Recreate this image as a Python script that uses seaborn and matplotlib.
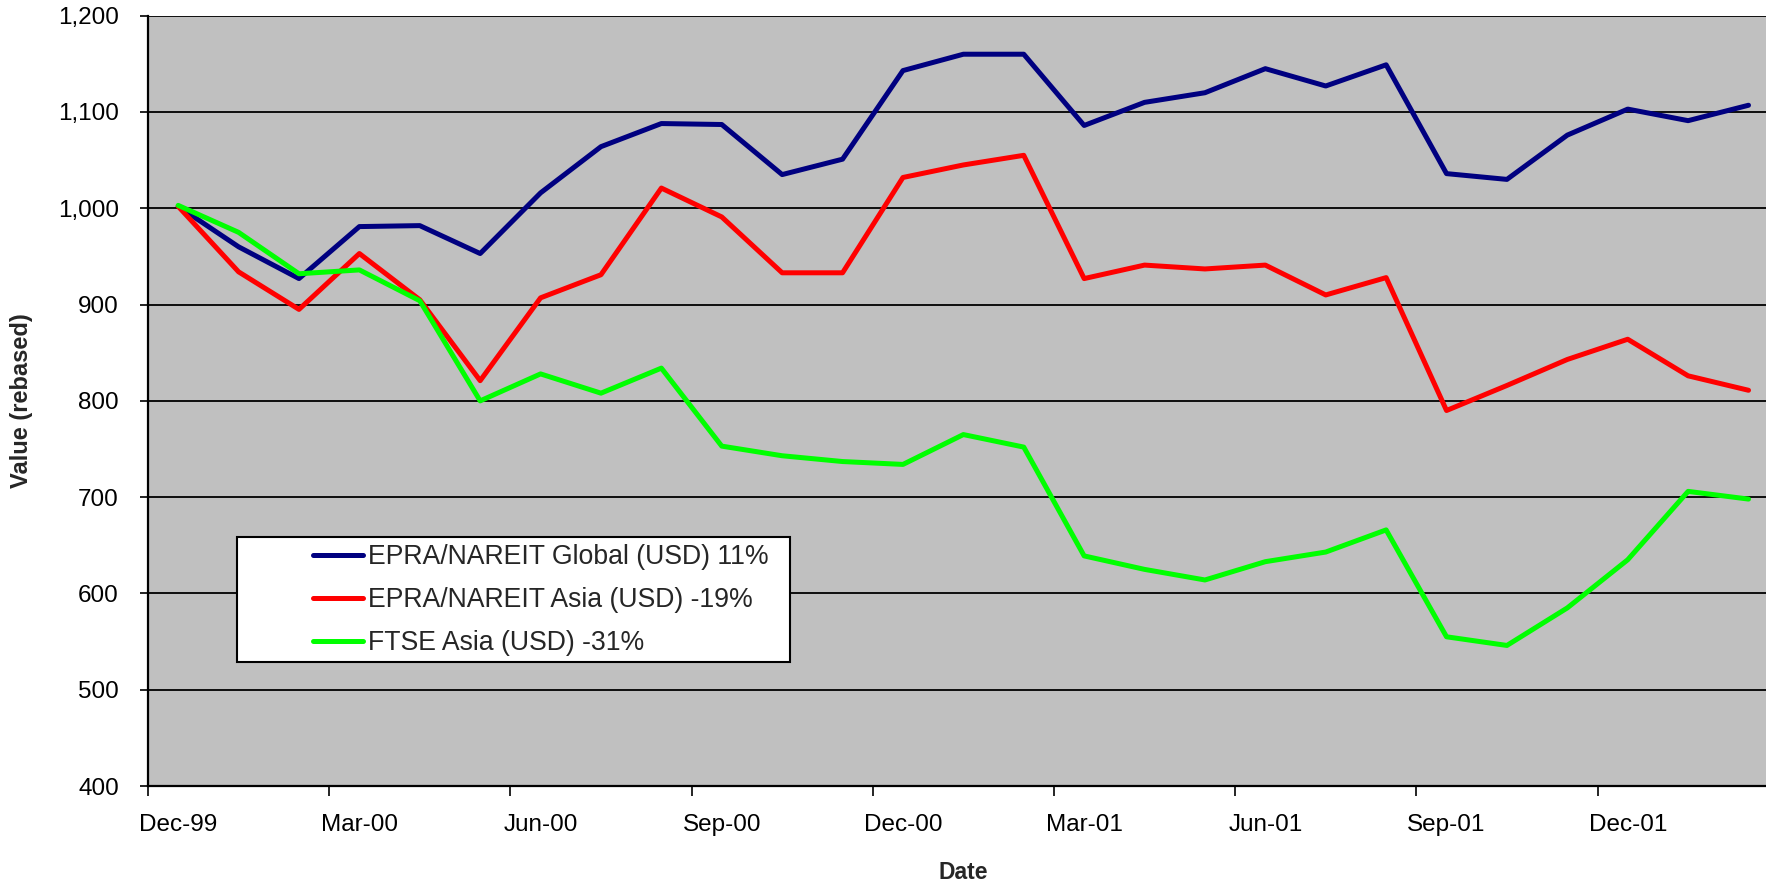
import pandas as pd
import seaborn as sns
import matplotlib.pyplot as plt
from matplotlib.patches import Rectangle
from matplotlib.ticker import FuncFormatter, FixedLocator

# monthly observations Dec-99 .. Feb-02
dates = pd.date_range('1999-12-01', '2002-02-01', freq='MS').strftime('%b-%y').tolist()

global_usd = [1002, 960, 927, 981, 982, 953, 1016, 1064, 1088, 1087, 1035, 1051, 1143,
              1160, 1160, 1086, 1110, 1120, 1145, 1127, 1149, 1036, 1030, 1076, 1103, 1091, 1107]
asia_usd = [1002, 934, 895, 953, 905, 821, 907, 931, 1021, 991, 933, 933, 1032,
            1045, 1055, 927, 941, 937, 941, 910, 928, 790, 816, 843, 864, 826, 811]
ftse_asia = [1003, 975, 932, 936, 904, 800, 828, 808, 834, 753, 743, 737, 734,
             765, 752, 639, 625, 614, 633, 643, 666, 555, 546, 585, 635, 706, 698]

series_names = ['EPRA/NAREIT Global (USD) 11%',
                'EPRA/NAREIT Asia (USD) -19%',
                'FTSE Asia (USD) -31%']
colors = ['#000080', '#FF0000', '#00FF00']

df = pd.concat([
    pd.DataFrame({'pos': range(len(dates)), 'date': dates, 'value': vals, 'series': name})
    for name, vals in zip(series_names, [global_usd, asia_usd, ftse_asia])
])

sns.set_theme(style='ticks')
plt.rcParams['font.family'] = ['Liberation Sans', 'DejaVu Sans']

fig = plt.figure(figsize=(17.66, 8.82), dpi=100)
ax = fig.add_axes([0.0838, 0.1088, 0.9234, 0.8734])
ax.set_facecolor('#C0C0C0')

sns.lineplot(data=df, x='pos', y='value', hue='series', palette=colors,
             linewidth=3.6, ax=ax, legend=False, zorder=3)

ax.set_xlim(-0.5, 26.5)
ax.set_ylim(400, 1200)

# y axis
ax.set_yticks(range(400, 1201, 100))
ax.yaxis.set_major_formatter(FuncFormatter(lambda v, p: f'{int(v):,}'))
ax.tick_params(axis='y', direction='out', length=6, width=1.2, color='black',
               pad=15, labelsize=17.5, labelcolor='black')
ax.yaxis.grid(True, color='black', linewidth=1.3)
ax.set_axisbelow(True)

# x axis: labels in the middle of categories, ticks on the boundaries
ax.set_xticks(range(0, len(dates), 3))
ax.set_xticklabels(dates[::3])
ax.xaxis.set_minor_locator(FixedLocator([i - 0.5 for i in range(0, len(dates) + 1, 3)]))
ax.tick_params(axis='x', which='major', length=0, pad=20, labelsize=17.5, labelcolor='black')
ax.tick_params(axis='x', which='minor', direction='out', length=7, width=1.2, color='black')

for side in ['top', 'right']:
    ax.spines[side].set_visible(False)
for side in ['left', 'bottom']:
    ax.spines[side].set_color('black')
    ax.spines[side].set_linewidth(1.6)

ax.set_xlabel('Date', fontsize=16.5, fontweight='bold')
ax.set_ylabel('Value (rebased)', fontsize=17, fontweight='bold')
ax.xaxis.set_label_coords(0.5, -0.097)
ax.yaxis.set_label_coords(-0.0705, 0.5)

# legend box, Excel style
fig.patches.append(Rectangle((237 / 1766, 1 - 662 / 882), (790 - 237) / 1766, (662 - 537) / 882,
                             transform=fig.transFigure, facecolor='white', edgecolor='black',
                             linewidth=1.5, zorder=5))
handles = [plt.Line2D([], [], color=c, linewidth=3.6) for c in colors]
leg = fig.legend(handles, series_names, loc='upper left',
                 bbox_to_anchor=(308 / 1766, 1 - 539 / 882), frameon=False,
                 fontsize=19.2, handlelength=1.85, handletextpad=0.2, labelspacing=0.64,
                 borderaxespad=0, borderpad=0.2)
leg.set_zorder(6)

plt.savefig('out.png', dpi=100)
